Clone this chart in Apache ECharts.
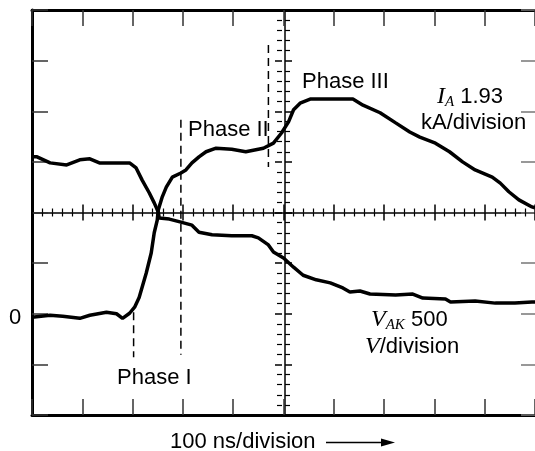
<!DOCTYPE html>
<html>
<head>
<meta charset="utf-8">
<script src="https://cdn.jsdelivr.net/npm/echarts@6/dist/echarts.min.js"></script>
<style>
html, body { margin: 0; padding: 0; background: #fff; }
#chart { width: 535px; height: 451px; }
</style>
</head>
<body>
<div id="chart"></div>
<script>
// time in ns (100 ns/division), traces in graticule divisions (0 = centre line)
var iaTime = [0, 36, 61, 95, 115, 148, 168, 180, 194, 204, 213, 227, 237, 243, 249, 251, 259, 267, 279, 296, 306, 318, 332, 346, 366, 397, 425, 445, 460, 480, 496, 510, 520, 533, 553, 593, 638, 658, 692, 723, 751, 771, 802, 830, 856, 881, 915, 931, 948, 968, 994, 1000];
var iaDiv = [-2.07, -2.03, -2.05, -2.09, -2.03, -1.97, -2.00, -2.09, -1.99, -1.87, -1.68, -1.20, -0.80, -0.40, -0.15, 0.05, 0.31, 0.50, 0.70, 0.78, 0.84, 0.98, 1.10, 1.20, 1.27, 1.25, 1.20, 1.24, 1.27, 1.37, 1.57, 1.79, 2.03, 2.16, 2.24, 2.24, 2.24, 2.12, 1.97, 1.77, 1.59, 1.49, 1.37, 1.20, 1.00, 0.84, 0.70, 0.58, 0.41, 0.25, 0.11, 0.09];

var vakTime = [0, 10, 36, 69, 95, 115, 134, 168, 194, 207, 219, 233, 243, 251, 253, 273, 296, 318, 332, 358, 397, 437, 450, 470, 480, 500, 520, 539, 565, 593, 618, 632, 652, 672, 723, 757, 777, 822, 832, 881, 921, 960, 994, 1000];
var vakDiv = [1.10, 1.10, 0.98, 0.94, 1.04, 1.06, 0.98, 0.98, 0.98, 0.88, 0.64, 0.39, 0.19, 0.01, -0.11, -0.13, -0.19, -0.25, -0.39, -0.44, -0.46, -0.46, -0.50, -0.64, -0.78, -0.90, -1.08, -1.24, -1.33, -1.39, -1.49, -1.57, -1.55, -1.61, -1.63, -1.61, -1.69, -1.71, -1.77, -1.75, -1.79, -1.79, -1.77, -1.77];

// dashed phase markers: time, top and bottom (divisions)
var phaseTime = [202, 296, 470];
var phaseTop = [-1.97, 1.83, 3.31];
var phaseBottom = [-2.86, -2.81, 0.90];

var sans = '"Liberation Sans", Arial, Helvetica, sans-serif';
var serif = '"Liberation Serif", "Times New Roman", serif';

function pairs(xs, ys) {
  return xs.map(function (x, i) { return [x, ys[i]]; });
}

function xAxisCfg(pos, offset, lineW, tickLen, inside, minor, color) {
  return {
    type: 'value', min: 0, max: 1000, interval: 100,
    position: pos, offset: offset,
    axisLine: { show: lineW > 0, onZero: false, lineStyle: { color: '#000', width: lineW || 1 } },
    axisTick: { show: true, inside: inside, length: tickLen, lineStyle: { color: color, width: 1.5 } },
    minorTick: { show: minor, splitNumber: 5, length: 4, lineStyle: { color: color, width: 1.2 } },
    axisLabel: { show: false },
    splitLine: { show: false }
  };
}

function yAxisCfg(pos, offset, lineW, tickLen, inside, minor, color) {
  return {
    type: 'value', min: -4, max: 4, interval: 1,
    position: pos, offset: offset,
    axisLine: { show: lineW > 0, onZero: false, lineStyle: { color: '#000', width: lineW || 1 } },
    axisTick: { show: true, inside: inside, length: tickLen, lineStyle: { color: color, width: 1.5 } },
    minorTick: { show: minor, splitNumber: 5, length: 5, lineStyle: { color: color, width: 1.2 } },
    axisLabel: { show: false },
    splitLine: { show: false }
  };
}

var series = [
  {
    name: 'IA', type: 'line', data: pairs(iaTime, iaDiv),
    showSymbol: false, lineStyle: { color: '#000', width: 3.5 }, z: 5
  },
  {
    name: 'VAK', type: 'line', data: pairs(vakTime, vakDiv),
    showSymbol: false, lineStyle: { color: '#000', width: 3.5 }, z: 5
  }
];
phaseTime.forEach(function (t, i) {
  series.push({
    type: 'line', data: [[t, phaseTop[i]], [t, phaseBottom[i]]],
    showSymbol: false, lineStyle: { color: '#000', width: 1.5, type: [8, 5] }, z: 4
  });
});

var chart = echarts.init(document.getElementById('chart'));
var option = {
  animation: false,
  backgroundColor: '#fff',
  grid: { left: 32, top: 10, width: 506, height: 405, containLabel: false },
  xAxis: [
    xAxisCfg('bottom', 0, 3, 16, true, false, '#333'),
    xAxisCfg('top', 0, 3, 16, true, false, '#333'),
    xAxisCfg('bottom', -202.5, 1.5, 8, true, true, '#000'),
    xAxisCfg('top', -202.5, 0, 8, true, true, '#000')
  ],
  yAxis: [
    yAxisCfg('left', 0, 3, 16, true, false, '#333'),
    yAxisCfg('right', 0, 0, 14, true, false, '#777'),
    yAxisCfg('left', -253, 1.5, 7, true, true, '#000'),
    yAxisCfg('right', -253, 0, 7, true, true, '#000')
  ],
  series: series,
  graphic: [
    { type: 'text', x: 188, y: 130, style: { text: 'Phase II', font: '22px ' + sans, fill: '#000', textVerticalAlign: 'middle' } },
    { type: 'text', x: 302, y: 82, style: { text: 'Phase III', font: '22px ' + sans, fill: '#000', textVerticalAlign: 'middle' } },
    { type: 'text', x: 117, y: 378, style: { text: 'Phase I', font: '22px ' + sans, fill: '#000', textVerticalAlign: 'middle' } },
    { type: 'text', x: 9, y: 318, style: { text: '0', font: '22px ' + sans, fill: '#000', textVerticalAlign: 'middle' } },
    {
      type: 'text', x: 437, y: 97,
      style: {
        text: '{i|I}{s|A}{n| 1.93}', fill: '#000', textVerticalAlign: 'middle',
        rich: {
          i: { fontFamily: serif, fontStyle: 'italic', fontSize: 24 },
          s: { fontFamily: serif, fontStyle: 'italic', fontSize: 15, padding: [10, 0, 0, 0] },
          n: { fontFamily: sans, fontSize: 22 }
        }
      }
    },
    { type: 'text', x: 421, y: 123, style: { text: 'kA/division', font: '22px ' + sans, fill: '#000', textVerticalAlign: 'middle' } },
    {
      type: 'text', x: 371, y: 320,
      style: {
        text: '{i|V}{s|AK}{n| 500}', fill: '#000', textVerticalAlign: 'middle',
        rich: {
          i: { fontFamily: serif, fontStyle: 'italic', fontSize: 24 },
          s: { fontFamily: serif, fontStyle: 'italic', fontSize: 15, padding: [10, 0, 0, 0] },
          n: { fontFamily: sans, fontSize: 22 }
        }
      }
    },
    {
      type: 'text', x: 365, y: 347,
      style: {
        text: '{i|V}{n|/division}', fill: '#000', textVerticalAlign: 'middle',
        rich: {
          i: { fontFamily: serif, fontStyle: 'italic', fontSize: 24 },
          n: { fontFamily: sans, fontSize: 22 }
        }
      }
    },
    { type: 'text', x: 170, y: 442, style: { text: '100 ns/division', font: '22px ' + sans, fill: '#000', textVerticalAlign: 'middle' } },
    { type: 'line', shape: { x1: 326, y1: 442.5, x2: 386, y2: 442.5 }, style: { stroke: '#000', lineWidth: 1.5 } },
    { type: 'polygon', shape: { points: [[381, 438.5], [395, 442.5], [381, 446.5]] }, style: { fill: '#000' } }
  ]
};
chart.setOption(option);
window.addEventListener('resize', function () { chart.resize(); });
</script>
</body>
</html>
